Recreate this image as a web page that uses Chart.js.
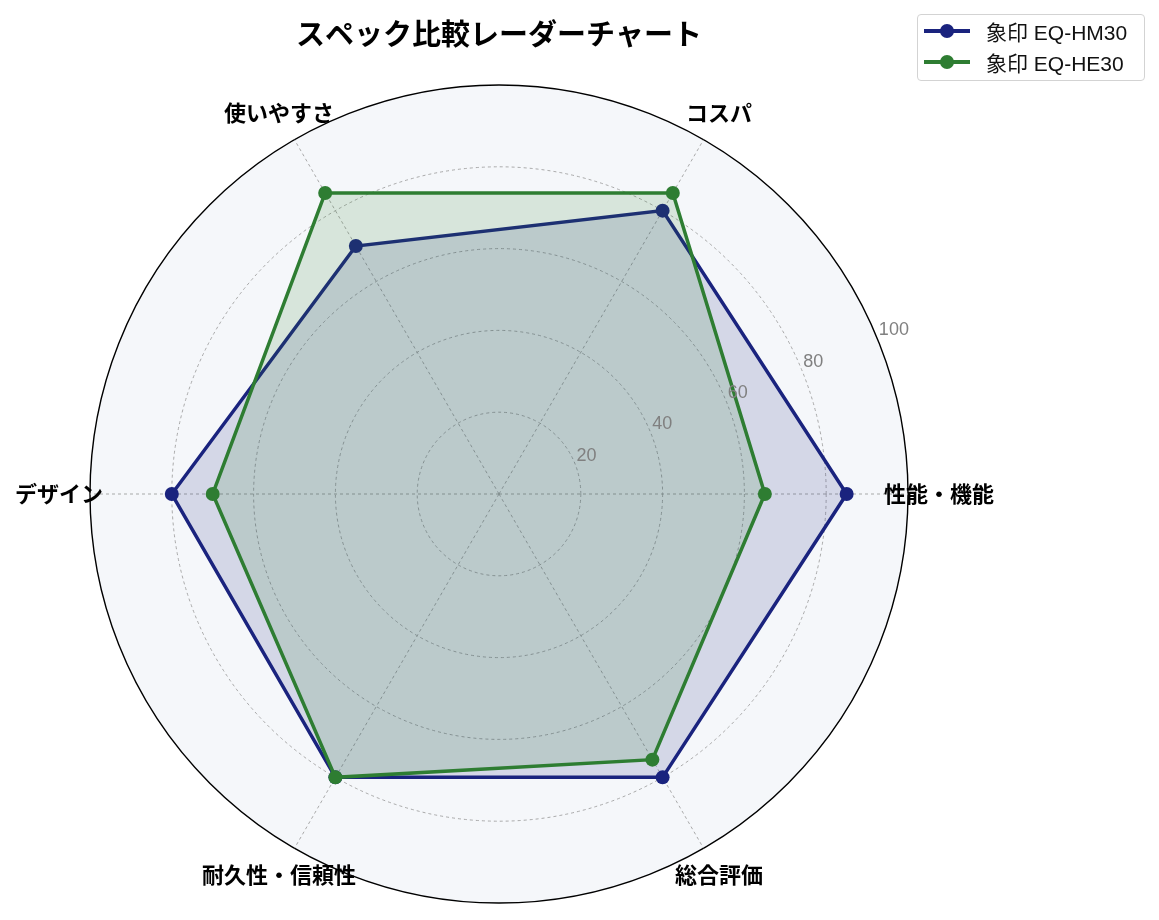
<!DOCTYPE html>
<html lang="ja">
<head>
<meta charset="utf-8">
<title>スペック比較レーダーチャート</title>
<script src="https://cdn.jsdelivr.net/npm/chart.js@4.4.1/dist/chart.umd.min.js"></script>
<style>
    html, body { margin: 0; padding: 0; background: #fff; }
    #wrap { position: relative; width: 1159px; height: 920px; }
    #legend {
        position: absolute; left: 917px; top: 14px; width: 226px; height: 65px;
        border: 1px solid #d3d3d3; border-radius: 4px; background: rgba(255,255,255,.8);
        font-family: "Liberation Sans", "Noto Sans CJK JP", sans-serif; font-size: 21px; color: #111;
    }
    .row { position: absolute; left: 6px; height: 30px; display: flex; align-items: center; }
    .key { position: relative; width: 46px; height: 30px; margin-right: 16px; }
    .key .ln { position: absolute; left: 0; top: 13px; width: 46px; height: 4px; }
    .key .dot { position: absolute; left: 16px; top: 8px; width: 14px; height: 14px; border-radius: 50%; }
</style>
</head>
<body>
<div id="wrap">
    <canvas id="chart"></canvas>
    <div id="legend"></div>
</div>
<script>

/* ---------------- Data ---------------- */

// axes listed clockwise starting from the right-hand axis
const categories = ["性能・機能", "総合評価", "耐久性・信頼性", "デザイン", "使いやすさ", "コスパ"];

const hm30 = [85, 80, 80, 80, 70, 80];
const he30 = [65, 75, 80, 70, 85, 85];

const seriesNames = ["象印 EQ-HM30", "象印 EQ-HE30"];

const tickValues = [20, 40, 60, 80, 100];

const FONT = "'Noto Sans CJK JP', 'Noto Sans', sans-serif";
const LATIN = "'Liberation Sans', 'Noto Sans CJK JP', sans-serif";

/* ---------------- Plugins ---------------- */

// category labels centred just outside the outer ring
const axisLabels = {
    id: "axisLabels",
    afterDraw(chart) {
        const scale = chart.scales.r;
        const ctx = chart.ctx;
        const d = scale.getDistanceFromCenterForValue(100) + 31;
        ctx.save();
        ctx.font = "bold 22px " + FONT;
        ctx.fillStyle = "#000";
        ctx.textAlign = "center";
        ctx.textBaseline = "middle";
        categories.forEach((label, i) => {
            const p = scale.getPointPosition(i, d);
            ctx.fillText(label, p.x, p.y);
        });
        ctx.restore();
    }
};

// radial tick labels along the 22.5 degree direction
const tickLabels = {
    id: "tickLabels",
    afterDatasetsDraw(chart) {
        const scale = chart.scales.r;
        const ctx = chart.ctx;
        const a = 22.5 * Math.PI / 180;
        ctx.save();
        ctx.font = "18px " + LATIN;
        ctx.fillStyle = "#808080";
        ctx.textAlign = "left";
        ctx.textBaseline = "alphabetic";
        tickValues.forEach(v => {
            const d = scale.getDistanceFromCenterForValue(v);
            const x = scale.xCenter + Math.cos(a) * d;
            const y = scale.yCenter - Math.sin(a) * d;
            ctx.fillText(String(v), x + 2, y - 2);
        });
        ctx.restore();
    }
};

/* ---------------- Chart ---------------- */

const canvas = document.getElementById("chart");

const chart = new Chart(canvas.getContext("2d"), {

    type: "radar",

    data: {
        labels: categories,
        datasets: [
            {
                label: seriesNames[0],
                data: hm30,
                borderColor: "#1a237e",
                backgroundColor: "rgba(26,35,126,.15)",
                pointBackgroundColor: "#1a237e",
                pointBorderColor: "#1a237e",
                order: 1
            },
            {
                label: seriesNames[1],
                data: he30,
                borderColor: "#2e7d32",
                backgroundColor: "rgba(46,125,50,.15)",
                pointBackgroundColor: "#2e7d32",
                pointBorderColor: "#2e7d32",
                order: 0
            }
        ]
    },

    options: {
        responsive: true,
        maintainAspectRatio: false,
        animation: false,
        layout: {
            padding: { left: 90, right: 251, top: 0, bottom: 17 }
        },
        elements: {
            line: { borderWidth: 3.5, tension: 0, fill: true },
            point: { radius: 7, borderWidth: 0, hoverRadius: 7 }
        },
        plugins: {
            legend: { display: false },
            tooltip: { enabled: false },
            title: {
                display: true,
                text: "スペック比較レーダーチャート",
                color: "#000",
                font: { family: FONT, size: 29, weight: "bold", lineHeight: 1.2 },
                padding: { top: 17, bottom: 33.2 }
            }
        },
        scales: {
            r: {
                min: 0,
                max: 100,
                startAngle: 90,
                backgroundColor: "#f5f7fa",
                ticks: { stepSize: 20, display: false },
                pointLabels: { display: false },
                angleLines: {
                    color: "#a0a0a0",
                    lineWidth: 0.9,
                    borderDash: [3, 3]
                },
                grid: {
                    circular: true,
                    color: c => c.tick && c.tick.value === 100 ? "#000" : "#a0a0a0",
                    lineWidth: c => c.tick && c.tick.value === 100 ? 1.4 : 0.9
                },
                border: {
                    dash: c => c.tick && c.tick.value === 100 ? [] : [3, 3]
                }
            }
        }
    },

    plugins: [axisLabels, tickLabels]
});

/* ---------------- Legend ---------------- */

const legend = document.getElementById("legend");
chart.data.datasets.forEach((ds, i) => {
    const row = document.createElement("div");
    row.className = "row";
    row.style.top = (1 + i * 31) + "px";
    row.innerHTML =
        '<span class="key"><span class="ln" style="background:' + ds.borderColor + '"></span>' +
        '<span class="dot" style="background:' + ds.borderColor + '"></span></span>' +
        '<span>' + ds.label + '</span>';
    legend.appendChild(row);
});

</script>
</body>
</html>
